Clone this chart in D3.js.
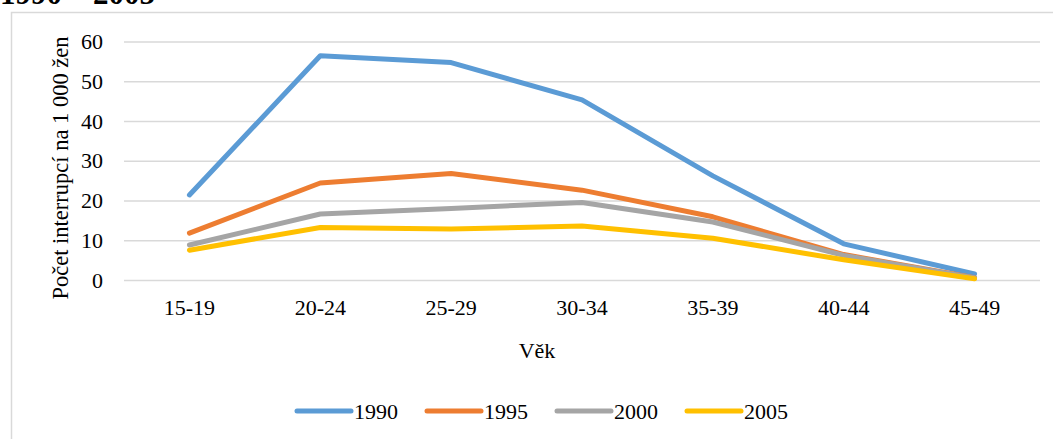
<!DOCTYPE html>
<html><head><meta charset="utf-8">
<script src="https://cdn.jsdelivr.net/npm/d3@7"></script>
<style>body{margin:0;background:#fff}</style>
</head><body><svg id="c" width="1053" height="439"></svg>
<script>
const categories = ["15-19","20-24","25-29","30-34","35-39","40-44","45-49"];
const seriesNames = ["1990","1995","2000","2005"];
const v1990 = [21.4, 56.4, 54.7, 45.3, 26.2, 9.1, 1.5];
const v1995 = [11.8, 24.4, 26.8, 22.6, 15.9, 6.4, 0.6];
const v2000 = [8.8, 16.6, 18.0, 19.5, 14.6, 6.2, 0.5];
const v2005 = [7.5, 13.2, 12.8, 13.6, 10.5, 5.1, 0.3];
const yTicks = [0,10,20,30,40,50,60];
const colors = ["#5B9BD5","#ED7D31","#A5A5A5","#FFC000"];
const values = [v1990, v1995, v2000, v2005];
const FONT = "Liberation Serif";

const svg = d3.select("#c");
svg.append("text").attr("x",0).attr("y",4).attr("font-family",FONT).attr("font-size",31)
  .attr("font-weight","bold").text("1990 – 2005");
svg.append("rect").attr("x",11.5).attr("y",12.5).attr("width",1100).attr("height",500)
  .attr("fill","none").attr("stroke","#d9d9d9").attr("stroke-width",1.5);

const L = 124, R = 1040, T = 41.5, B = 280;
const x = d3.scaleBand().domain(categories).range([L,R]);
const y = d3.scaleLinear().domain([0,60]).range([B,T]);

const yAxis = svg.append("g").attr("transform",`translate(${L},0)`)
  .call(d3.axisLeft(y).tickValues(yTicks).tickSize(-(R-L)).tickPadding(21));
yAxis.attr("font-family",FONT).attr("font-size",22);
yAxis.select(".domain").remove();
yAxis.selectAll(".tick line").attr("stroke","#d9d9d9").attr("stroke-width",1.5);
yAxis.selectAll(".tick text").attr("fill","#000");

const xAxis = svg.append("g").attr("transform",`translate(0,${B})`)
  .call(d3.axisBottom(x).tickSize(0).tickPadding(19));
xAxis.attr("font-family",FONT).attr("font-size",22);
xAxis.select(".domain").remove();
xAxis.selectAll(".tick text").attr("fill","#000");

svg.append("text").attr("transform",`translate(68,168) rotate(-90)`).attr("text-anchor","middle")
  .attr("font-family",FONT).attr("font-size",22.5).text("Počet interrupcí na 1 000 žen");
svg.append("text").attr("x",537).attr("y",358).attr("text-anchor","middle")
  .attr("font-family",FONT).attr("font-size",22).text("Věk");

const line = d3.line().x((d,i)=>x(categories[i])+x.bandwidth()/2).y(d=>y(d));
values.forEach((vals,k)=>{
  svg.append("path").datum(vals).attr("d",line).attr("fill","none").attr("stroke",colors[k])
    .attr("stroke-width",5).attr("stroke-linejoin","round").attr("stroke-linecap","round");
});

const legX = [297, 427, 557, 687];
seriesNames.forEach((s,k)=>{
  const g = svg.append("g").attr("transform",`translate(${legX[k]},411)`);
  g.append("line").attr("x1",0).attr("x2",54).attr("stroke",colors[k]).attr("stroke-width",5).attr("stroke-linecap","round");
  g.append("text").attr("x",57).attr("y",8).attr("font-family",FONT).attr("font-size",22).text(s);
});
</script></body></html>
